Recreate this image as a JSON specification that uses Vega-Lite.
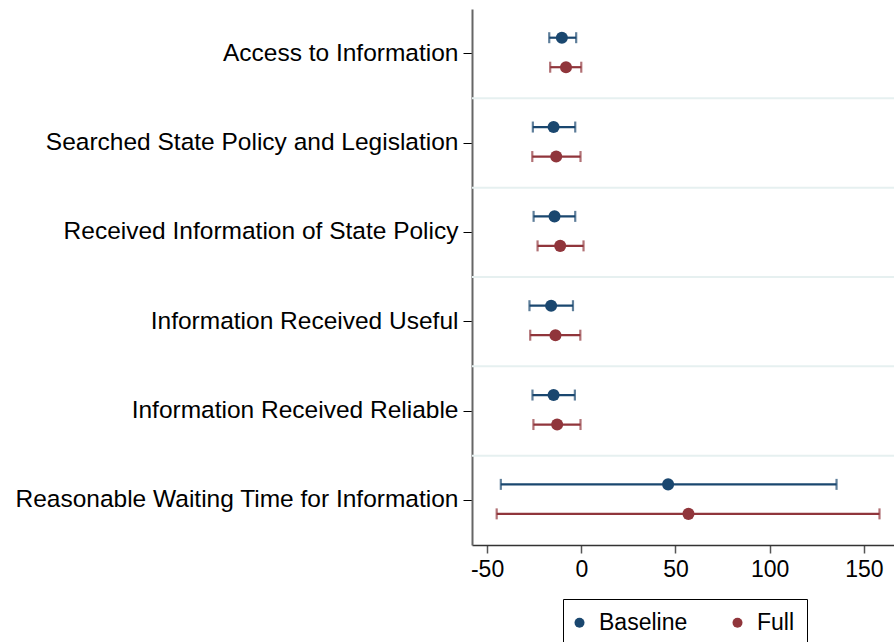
{
  "$schema": "https://vega.github.io/schema/vega-lite/v6.json",
  "width": 422,
  "height": 536,
  "autosize": "none",
  "padding": {"left": 472, "top": 9, "right": 0, "bottom": 97},
  "background": "white",
  "config": {
    "view": {"stroke": null},
    "font": "Liberation Sans",
    "legend": {
      "title": null,
      "orient": "none",
      "legendX": 91,
      "legendY": 590,
      "direction": "horizontal",
      "symbolType": "circle",
      "symbolSize": 75,
      "symbolOffset": -7,
      "symbolOpacity": 1,
      "symbolStrokeWidth": 0,
      "labelFontSize": 23,
      "labelColor": "#000000",
      "labelOffset": 8,
      "columnPadding": 44,
      "padding": 12,
      "strokeColor": "#000000",
      "strokeWidth": 1
    }
  },
  "data": {
    "values": [
      {"outcome": "Access to Information", "model": "Baseline", "est": -10.3, "lo": -17.0, "hi": -2.7},
      {"outcome": "Access to Information", "model": "Full", "est": -8.1, "lo": -16.5, "hi": 0.0},
      {"outcome": "Searched State Policy and Legislation", "model": "Baseline", "est": -14.7, "lo": -25.7, "hi": -3.2},
      {"outcome": "Searched State Policy and Legislation", "model": "Full", "est": -13.3, "lo": -26.0, "hi": -0.4},
      {"outcome": "Received Information of State Policy\u00a0", "model": "Baseline", "est": -14.2, "lo": -25.3, "hi": -3.2},
      {"outcome": "Received Information of State Policy\u00a0", "model": "Full", "est": -11.2, "lo": -23.2, "hi": 1.2},
      {"outcome": "Information Received Useful", "model": "Baseline", "est": -16.0, "lo": -27.5, "hi": -4.4},
      {"outcome": "Information Received Useful", "model": "Full", "est": -13.7, "lo": -27.1, "hi": -0.5},
      {"outcome": "Information Received Reliable", "model": "Baseline", "est": -14.7, "lo": -25.9, "hi": -3.4},
      {"outcome": "Information Received Reliable", "model": "Full", "est": -12.8, "lo": -25.4, "hi": -0.4},
      {"outcome": "Reasonable Waiting Time for Information", "model": "Baseline", "est": 46.1, "lo": -42.7, "hi": 135.5},
      {"outcome": "Reasonable Waiting Time for Information", "model": "Full", "est": 56.9, "lo": -44.9, "hi": 158.3}
    ]
  },
  "encoding": {
    "y": {
      "field": "outcome",
      "type": "nominal",
      "sort": ["Access to Information", "Searched State Policy and Legislation", "Received Information of State Policy\u00a0", "Information Received Useful", "Information Received Reliable", "Reasonable Waiting Time for Information"],
      "scale": {"paddingInner": 0, "paddingOuter": 0},
      "axis": {
        "title": null,
        "grid": false,
        "labelFontSize": 24.5,
        "labelColor": "#000000",
        "labelLimit": 600,
        "labelPadding": 5,
        "tickSize": 9,
        "tickColor": "#000000",
        "tickWidth": 1,
        "domainColor": "#666666",
        "domainWidth": 2
      }
    }
  },
  "layer": [
    {
      "transform": [{"filter": "datum.model === 'Baseline' && datum.outcome !== 'Access to Information'"}],
      "mark": {"type": "rule", "color": "#e6f0f0", "strokeWidth": 2},
      "encoding": {
        "y": {"field": "outcome", "type": "nominal", "sort": ["Access to Information", "Searched State Policy and Legislation", "Received Information of State Policy\u00a0", "Information Received Useful", "Information Received Reliable", "Reasonable Waiting Time for Information"], "bandPosition": 0}
      }
    },
    {
      "mark": {"type": "rule", "strokeWidth": 2.2},
      "encoding": {
        "x": {
          "field": "lo",
          "type": "quantitative",
          "scale": {"domain": [-58, 166], "nice": false, "zero": false},
          "axis": {
            "title": null,
            "values": [-50, 0, 50, 100, 150],
            "labelExpr": "'' + datum.value",
            "grid": false,
            "labelFontSize": 23,
            "labelColor": "#000000",
            "labelPadding": 5,
            "tickSize": 8,
            "tickColor": "#555555",
            "tickWidth": 1.5,
            "domainColor": "#333333",
            "domainWidth": 1.5
          }
        },
        "x2": {"field": "hi"},
        "yOffset": {"field": "model", "type": "nominal", "scale": {"paddingInner": 0, "paddingOuter": 0.514, "align": 0.46}},
        "color": {"field": "model", "type": "nominal", "scale": {"domain": ["Baseline", "Full"], "range": ["#1a476f", "#90353b"]}}
      }
    },
    {
      "mark": {"type": "tick", "orient": "vertical", "size": 11, "thickness": 2.2},
      "encoding": {
        "x": {"field": "lo", "type": "quantitative"},
        "yOffset": {"field": "model", "type": "nominal"},
        "color": {"field": "model", "type": "nominal"}
      }
    },
    {
      "mark": {"type": "tick", "orient": "vertical", "size": 11, "thickness": 2.2},
      "encoding": {
        "x": {"field": "hi", "type": "quantitative"},
        "yOffset": {"field": "model", "type": "nominal"},
        "color": {"field": "model", "type": "nominal"}
      }
    },
    {
      "mark": {"type": "point", "filled": true, "opacity": 1, "size": 145, "shape": "circle"},
      "encoding": {
        "x": {"field": "est", "type": "quantitative"},
        "yOffset": {"field": "model", "type": "nominal"},
        "color": {
          "field": "model",
          "type": "nominal",
          "legend": {
            "symbolType": "circle",
            "encode": {
              "symbols": {
                "update": {
                  "fill": {"scale": "color", "field": "value"},
                  "stroke": {"value": "transparent"},
                  "opacity": {"value": 1},
                  "size": {"value": 100}
                }
              }
            }
          }
        }
      }
    },
    {
      "mark": {"type": "rule", "color": "#ff0000", "strokeWidth": 2, "strokeDash": [5, 4]},
      "encoding": {"x": {"datum": 0}}
    }
  ]
}
